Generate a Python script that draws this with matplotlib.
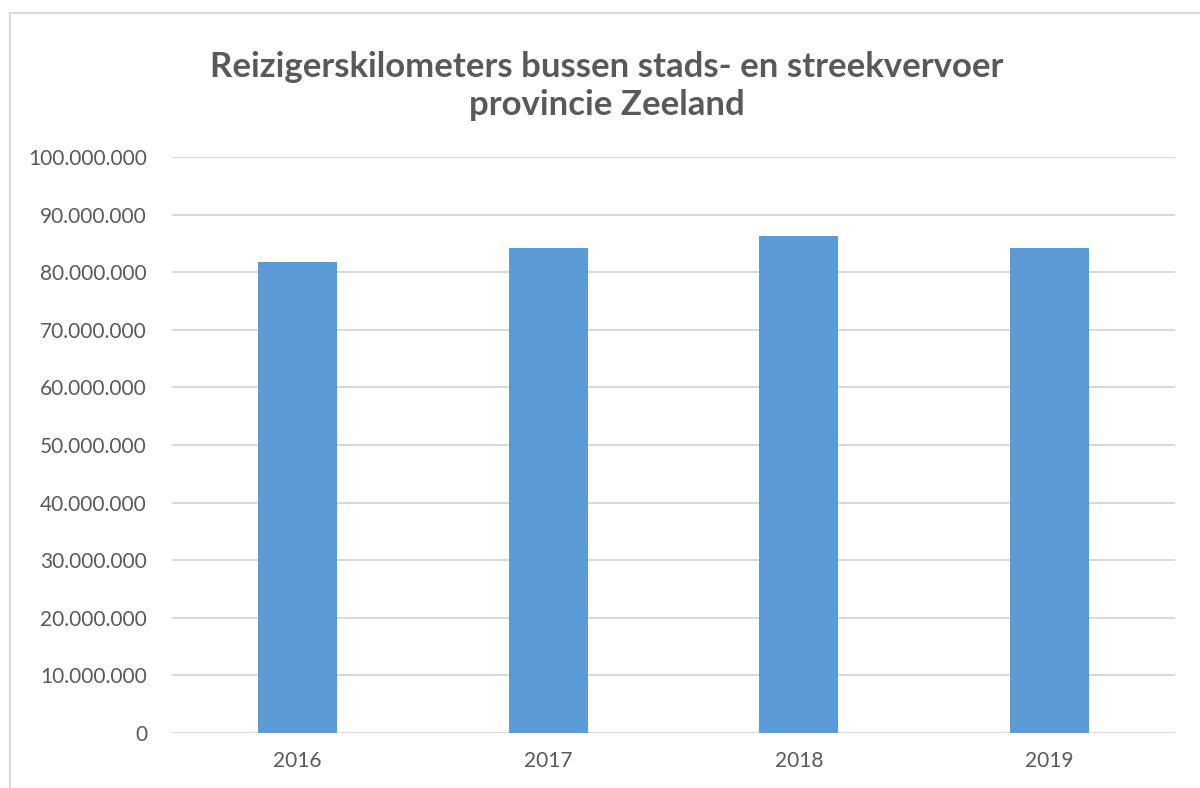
import matplotlib
matplotlib.use('Agg')
import matplotlib.pyplot as plt
import matplotlib.ticker as mticker
from matplotlib.patches import Rectangle

years = ['2016', '2017', '2018', '2019']
reizigerskm = [81_700_000, 84_250_000, 86_200_000, 84_250_000]

text_color = '#595959'
bar_color = '#5b9bd5'
grid_color = '#d9d9d9'

plt.rcParams['font.family'] = ['Lato', 'DejaVu Sans']

fig = plt.figure(figsize=(12, 7.88), dpi=100)
ax = fig.add_axes([172 / 1200, 1 - 733 / 788, (1175 - 172) / 1200, (733 - 157) / 788])

# chart frame, open to the right and bottom
fig.patches.append(Rectangle((10 / 1200, -0.1), 1.2, 1 - 13 / 788 + 0.1,
                             transform=fig.transFigure, fill=False,
                             edgecolor='#d9d9d9', linewidth=1.5))

ax.bar(range(len(years)), reizigerskm, width=0.315, color=bar_color, zorder=3)

ax.set_xlim(-0.5, len(years) - 0.5)
ax.set_ylim(0, 100_000_000)
ax.yaxis.set_major_locator(mticker.MultipleLocator(10_000_000))
ax.yaxis.set_major_formatter(
    mticker.FuncFormatter(lambda v, _: f'{int(v):,}'.replace(',', '.')))
ax.set_xticks(range(len(years)))
ax.set_xticklabels(years)

ax.grid(axis='y', color=grid_color, linewidth=1.5, zorder=0)
for side in ['top', 'right', 'left', 'bottom']:
    ax.spines[side].set_visible(False)
ax.tick_params(axis='both', length=0, labelsize=15, labelcolor=text_color)
ax.tick_params(axis='y', pad=18)
ax.tick_params(axis='x', pad=13)

fig.text(607 / 1200, 1 - 86 / 788,
         'Reizigerskilometers bussen stads- en streekvervoer\nprovincie Zeeland',
         ha='center', va='center', fontsize=25, fontweight='bold',
         color=text_color, linespacing=1.2)

fig.savefig('out.png', dpi=100)
